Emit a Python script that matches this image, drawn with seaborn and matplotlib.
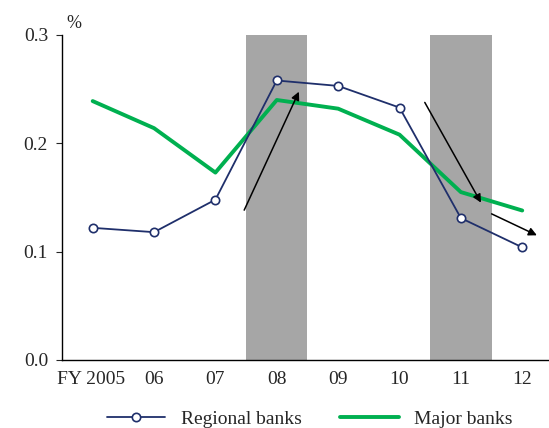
import numpy as np
import matplotlib.pyplot as plt
import seaborn as sns
import pandas as pd

years = ["FY 2005", "06", "07", "08", "09", "10", "11", "12"]
regional = [0.122, 0.118, 0.148, 0.258, 0.253, 0.233, 0.131, 0.104]
major = [0.239, 0.214, 0.173, 0.240, 0.232, 0.208, 0.155, 0.138]

sns.set_style("white")
plt.rcParams['font.family'] = ['Liberation Serif', 'DejaVu Serif']

fig = plt.figure(figsize=(5.49, 4.28), dpi=100)
ax = fig.add_axes([62/549, 1-360/428, 486/549, 325/428])

x = np.arange(len(years))
df = pd.DataFrame({'x': np.concatenate([x, x]),
                   'val': regional + major,
                   'series': ['Regional banks']*8 + ['Major banks']*8})

for a, b in [(2.5, 3.5), (5.5, 6.5)]:
    ax.axvspan(a, b, color='#a6a6a6', lw=0, zorder=0)

sns.lineplot(data=df[df.series == 'Regional banks'], x='x', y='val', ax=ax,
             color='#1f2f6b', lw=1.3, marker='o', markersize=6,
             markerfacecolor='white', markeredgecolor='#1f2f6b', markeredgewidth=1.2,
             label='Regional banks', zorder=3)
sns.lineplot(data=df[df.series == 'Major banks'], x='x', y='val', ax=ax,
             color='#00b050', lw=2.8, label='Major banks', zorder=2)

for (x0, y0, x1, y1) in [(2.45, 0.136, 3.38, 0.250), (5.39, 0.240, 6.35, 0.143),
                         (6.46, 0.136, 7.28, 0.114)]:
    ax.annotate('', xy=(x1, y1), xytext=(x0, y0),
                arrowprops=dict(arrowstyle='-|>', color='black', lw=1.1, mutation_scale=12))

ax.set_xlim(-0.5, 7.42)
ax.set_ylim(0, 0.3)
ax.set_yticks([0, 0.1, 0.2, 0.3])
ax.set_yticklabels(['0.0', '0.1', '0.2', '0.3'], fontsize=14)
ax.set_xticks(x)
ax.set_xticklabels(years, fontsize=14)
labels = ax.get_xticklabels()
labels[0].set_horizontalalignment('right')
labels[0].set_x(0)
ax.set_xlabel('')
ax.set_ylabel('')
ax.tick_params(axis='y', direction='out', length=4, left=True, pad=6)
ax.tick_params(axis='x', length=0, pad=8)
for s in ['top', 'right']:
    ax.spines[s].set_visible(False)
for s in ['left', 'bottom']:
    ax.spines[s].set_color('black')
    ax.spines[s].set_linewidth(1)
ax.text(0.01, 1.01, '%', transform=ax.transAxes, fontsize=13, va='bottom')

import matplotlib.transforms as mt
off = mt.ScaledTranslation(32/100, 0, fig.dpi_scale_trans)
labels[0].set_transform(labels[0].get_transform() + off)

ax.legend(loc='upper center', bbox_to_anchor=(0.51, -0.13), ncol=2, frameon=False,
          fontsize=14, handlelength=3, columnspacing=2.0, borderaxespad=0)

fig.savefig('out.png', dpi=100)
